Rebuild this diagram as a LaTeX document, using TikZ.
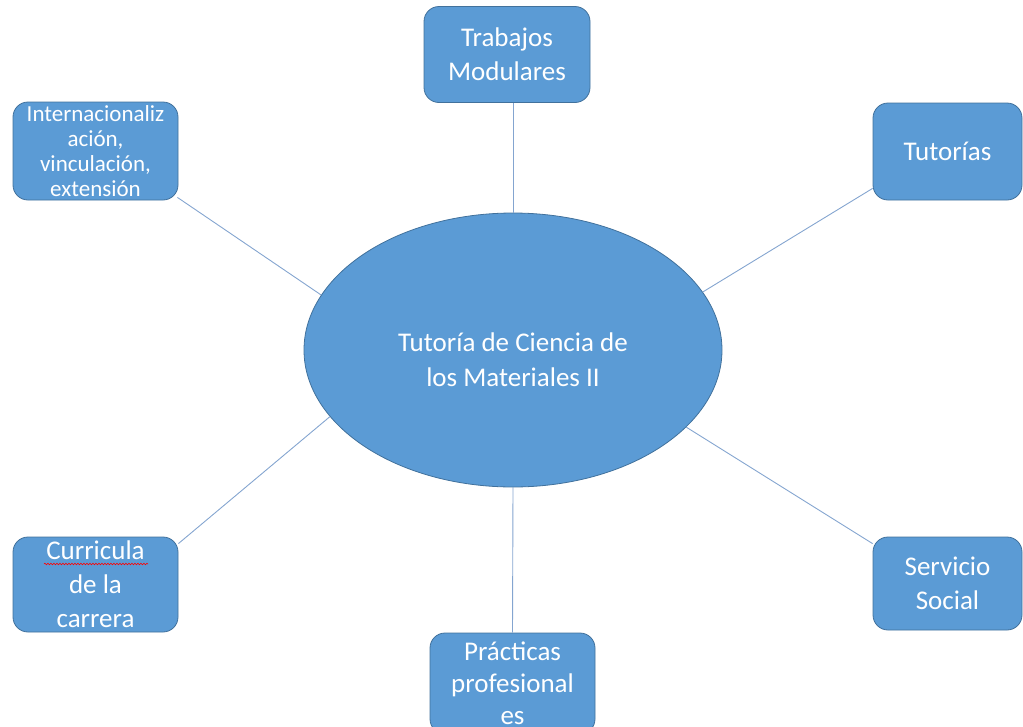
\documentclass[tikz,border=0pt]{standalone}
\usepackage{fontspec}
\setmainfont{Carlito}
\usetikzlibrary{shapes.geometric,decorations.pathmorphing}
\definecolor{boxfill}{HTML}{5B9BD5}
\definecolor{boxedge}{HTML}{41719C}
\definecolor{linkc}{RGB}{132,165,208}
\tikzset{
  topic/.style={draw=boxedge, line width=0.8pt, fill=boxfill, rounded corners=15pt,
    text=white, align=center, inner sep=0pt, font=\fontsize{27}{34}\selectfont},
  hub/.style={ellipse, draw=boxedge, line width=0.8pt, fill=boxfill, inner sep=0pt},
  hubtext/.style={text=white, align=center, inner sep=0pt, font=\fontsize{27}{35}\selectfont},
  link/.style={draw=linkc, line width=0.9pt}
}
\begin{document}
\begin{tikzpicture}[x=1pt,y=-1pt]
\useasboundingbox (0,0) rectangle (1023,726);
\clip (0,0) rectangle (1023,726);
\node[hub, minimum width=418pt, minimum height=274pt] (ell) at (513,350) {};
\node[hubtext] (elltext) at (513,360) {Tutoría de Ciencia de\\los Materiales II};
\node[topic, minimum width=166pt, minimum height=96pt] (trab) at (507,54.5) {Trabajos\\Modulares};
\node[topic, minimum width=165pt, minimum height=98pt, font=\fontsize{23}{25}\selectfont] (inter) at (95.5,151) {Internacionaliz\\ación,\\vinculación,\\extensión};
\node[topic, minimum width=149pt, minimum height=97pt] (tut) at (947.5,151.5) {Tutorías};
\node[topic, minimum width=165pt, minimum height=95pt] (curr) at (95.5,584.5) {Curricula\\de la\\carrera};
\node[topic, minimum width=149pt, minimum height=93pt] (serv) at (947.5,583.5) {Servicio\\Social};
\node[topic, minimum width=165pt, minimum height=101pt, font=\fontsize{27}{32}\selectfont] (prac) at (512.5,683.5) {Prácticas\\profesional\\es};
\draw[red, line width=0.6pt, decoration={snake, amplitude=0.8pt, segment length=3pt}, decorate] (44,564) -- (148,564);
\draw[link] (ell.north) -- (ell.north |- trab.south);
\draw[link] ([shift={(-1pt,3pt)}]inter.south east) -- (ell.164.2);
\draw[link] ([yshift=12pt]tut.south west) -- (ell.17.8);
\draw[link] ([yshift=-7pt]curr.north east) -- (ell.200.7);
\draw[link] ([yshift=-7pt]serv.north west) -- (ell.336.3);
\draw[link] (ell.south) -- (prac.north);
\end{tikzpicture}
\end{document}
